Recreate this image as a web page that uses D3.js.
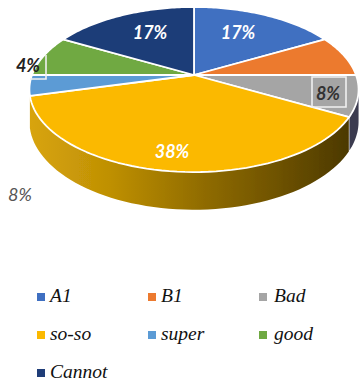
<!DOCTYPE html>
<html>
<head>
<meta charset="utf-8">
<script src="https://cdn.jsdelivr.net/npm/d3@7/dist/d3.min.js"></script>
<style>
html,body{margin:0;padding:0;background:#fff;}
svg{display:block;}
</style>
</head>
<body>
<svg id="chart" width="361" height="387"></svg>
<script>
const categories = ["A1","B1","Bad","so-so","super","good","Cannot"];
const values = [17,8,8,38,4,8,17];
const colors = ["#3f6fc1","#ec7a2f","#a5a5a5","#fbb900","#5b9bd5","#6fa942","#1f3d78"];
const labelTexts = ["17%","8%","8%","38%","4%","8%","17%"];

const W = 361, H = 387, cx = 194, cy = 75, rx = 162, ry = 80, k = 0.176, depth = 31;
const svg = d3.select("#chart").attr("viewBox",[0,0,W,H]);
const defs = svg.append("defs");
defs.append("filter").attr("id","soft").append("feGaussianBlur").attr("stdDeviation",0.35);
const grad = defs.append("linearGradient").attr("id","rim").attr("gradientUnits","userSpaceOnUse")
  .attr("x1",30).attr("x2",348).attr("y1",0).attr("y2",0);
[[0,"#d8a40a"],[0.25,"#bf9005"],[0.55,"#8f6b00"],[0.8,"#6b5000"],[1,"#4c3900"]]
  .forEach(([o,c]) => grad.append("stop").attr("offset",o).attr("stop-color",c));

// Perspective mapping of a tilted disk onto the page
function project(angle, r, z) {
  const u = Math.sin(angle)*r, v = -Math.cos(angle)*r, w = 1 - k*v;
  return [cx + rx*u/w, cy + (ry*v + z)/w];
}
const arcs = d3.pie().sort(null).value(d => d).startAngle(0).endAngle(2*Math.PI)(values);
const samples = (a,b,n=60) => d3.range(n+1).map(i => a + (b-a)*i/n);
const line = d3.line();
const g = svg.append("g").attr("filter","url(#soft)");

// side walls
function wall(a0,a1,fill){
  const top = samples(a0,a1).map(a => project(a,1,0));
  const bottom = samples(a1,a0).map(a => project(a,1,depth));
  g.append("path").attr("d",line(top.concat(bottom))+"Z").attr("fill",fill);
}
const bad = arcs[2], soso = arcs[3];
wall(bad.endAngle - 0.33, bad.endAngle - 0.005, "#3b3b50");
wall(soso.startAngle + 0.005, soso.endAngle, "url(#rim)");

// top slices
g.selectAll("path.slice").data(arcs).join("path").attr("class","slice")
  .attr("fill",(d,i)=>colors[i])
  .attr("stroke","#fff").attr("stroke-width",1.8).attr("stroke-linejoin","round")
  .attr("d",d => line([[cx,cy]].concat(samples(d.startAngle,d.endAngle).map(a=>project(a,1,0))))+"Z");

// label callout frames
const frames = [
  "M312,77H346V107H312Z",
  "M46,55V79H30"
];
g.selectAll("path.frame").data(frames).join("path").attr("class","frame")
  .attr("d",d=>d).attr("fill","none").attr("stroke","#f1f1f1").attr("stroke-width",1.6);

// percentage labels
const labelAnchors = [[238,39],[20,201],[328,100],[172,158],[28,72],null,[150,39]];
const labelFills = ["#fff","#555","#333","#fff","#222",null,"#fff"];
const labelData = labelTexts.map((t,i)=>({t,pos:labelAnchors[i],fill:labelFills[i]})).filter(d=>d.pos);
svg.selectAll("text.pct").data(labelData).join("text").attr("class","pct")
  .attr("x",d=>d.pos[0]).attr("y",d=>d.pos[1])
  .attr("text-anchor","middle")
  .attr("font-family","Lato, sans-serif").attr("font-style","italic")
  .attr("font-weight",(d,i)=>d.fill==="#555"?400:700).attr("font-size",18)
  .attr("fill",d=>d.fill).text(d=>d.t);

// legend
const col = d3.scalePoint().domain([0,1,2]).range([37,259]);
const row = d3.scalePoint().domain([0,1,2]).range([297,373]);
const leg = svg.selectAll("g.leg").data(categories).join("g").attr("class","leg")
  .attr("transform",(d,i)=>`translate(${col(i%3)},${row(Math.floor(i/3))})`);
leg.append("rect").attr("x",0).attr("y",-4).attr("width",8).attr("height",8)
  .attr("fill",(d,i)=>colors[i]);
leg.append("text").attr("x",(d,i)=>i%3===2?15:13).attr("y",5)
  .attr("font-family","'Liberation Serif', serif").attr("font-style","italic")
  .attr("font-size",19.5).attr("fill","#111").text(d=>d);
</script>
</body>
</html>
